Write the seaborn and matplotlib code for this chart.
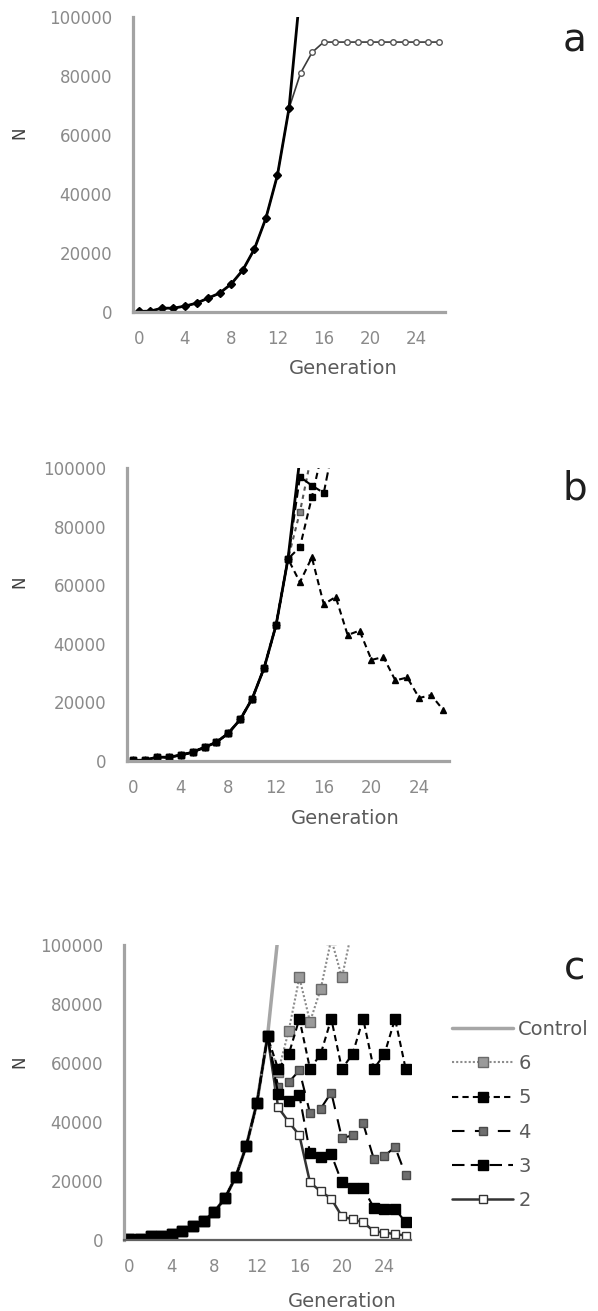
import matplotlib.pyplot as plt
import seaborn as sns

# generations on the x axis and the shared growth phase (gen 0-13)
gens = list(range(27))
growth = [200, 300, 1300, 1300, 2000, 3000, 4700, 6400, 9500, 14200, 21300, 31800, 46400, 69000]

# panel a - values from gen 14 on
a_control_tail = [110000]
a_capped_tail = [81000, 88000, 91500, 91500, 91500, 91500, 91500, 91500, 91500,
                 91500, 91500, 91500, 91500]

# panel b
b_control_tail = [103500]
b_h1_tail = [97000, 94000, 91500, 112000]
b_h2_tail = [85000, 105000]
b_h3_tail = [73000, 90000, 108000]
b_h4_tail = [61000, 69500, 53500, 56000, 43000, 44500, 34500, 35500, 27500, 28500,
             21500, 22500, 17500]

# panel c
c_order = ["Control", "6", "5", "4", "3", "2"]
c_control_tail = [103500]
c_6_tail = [57000, 71000, 89000, 74000, 85000, 102000, 89000, 106000]
c_5_tail = [58000, 63000, 75000, 58000, 63000, 75000, 58000, 63000, 75000, 58000,
            63000, 75000, 58000]
c_4_tail = [52000, 53500, 57500, 43000, 44500, 50000, 34500, 35500, 39500, 27500,
            28500, 31500, 22000]
c_3_tail = [49500, 47000, 49000, 29500, 28000, 29000, 19500, 17500, 17500, 11000,
            10500, 10500, 6000]
c_2_tail = [45000, 40000, 35500, 19500, 16500, 14000, 8000, 7000, 6000, 3000,
            2500, 2000, 1500]

yticks = [0, 20000, 40000, 60000, 80000, 100000]
xticks = [0, 4, 8, 12, 16, 20, 24]

sns.set_style("white")
plt.rcParams["font.family"] = ["DejaVu Sans"]

W, H = 598, 1311


def series(tail):
    y = growth + tail
    return gens[:len(y)], y


def draw(ax, tail, **kw):
    x, y = series(tail)
    kw.setdefault("markeredgecolor", kw.get("color", "black"))
    kw.setdefault("markeredgewidth", 1)
    sns.lineplot(x=x, y=y, ax=ax, errorbar=None, legend=False, **kw)


def style_axes(ax, xcol, xlw, label_x, label_y):
    ax.set_xlim(-0.5, 26.5)
    ax.set_ylim(0, 100000)
    ax.set_xticks(xticks)
    ax.set_xticklabels([str(t) for t in xticks])
    ax.set_yticks(yticks)
    ax.set_yticklabels([str(t) for t in yticks])
    ax.spines["top"].set_visible(False)
    ax.spines["right"].set_visible(False)
    ax.spines["left"].set_color("#a3a3a3")
    ax.spines["left"].set_linewidth(2.3)
    ax.spines["bottom"].set_color(xcol)
    ax.spines["bottom"].set_linewidth(xlw)
    ax.tick_params(length=0, labelsize=12, labelcolor="#8a8a8a")
    ax.tick_params(axis="y", pad=15)
    ax.tick_params(axis="x", pad=13)
    ax.set_ylabel("")
    ax.set_xlabel("Generation", fontsize=14, color="#5a5a5a")
    ax.xaxis.set_label_coords(label_x, label_y)


fig = plt.figure(figsize=(W / 100, H / 100), dpi=100)


def make_axes(left, right, top, bottom):
    return fig.add_axes([left / W, 1 - bottom / H, (right - left) / W, (bottom - top) / H])


# ---- panel a
ax_a = make_axes(133, 445, 17, 312)
draw(ax_a, a_capped_tail, color="#3a3a3a", linewidth=1.2, marker="o", markersize=4,
     markerfacecolor="white", markeredgecolor="#555555")
draw(ax_a, a_control_tail, color="black", linewidth=2, marker="D", markersize=4.5)
style_axes(ax_a, "#a3a3a3", 2.3, 0.675, -0.16)

# ---- panel b
ax_b = make_axes(127, 449, 468, 761)
draw(ax_b, b_h4_tail, color="black", linewidth=1.5, linestyle=(0, (3, 2)), marker="^",
     markersize=4.5)
draw(ax_b, b_h3_tail, color="black", linewidth=1.5, linestyle=(0, (3, 2)), marker="s",
     markersize=4)
draw(ax_b, b_h2_tail, color="#555555", linewidth=1.5, linestyle=(0, (2, 2)), marker="s",
     markersize=4, markerfacecolor="#888888")
draw(ax_b, b_h1_tail, color="black", linewidth=1.5, linestyle=(0, (4, 2)), marker="s",
     markersize=4)
draw(ax_b, b_control_tail, color="black", linewidth=2, marker="D", markersize=3.5)
style_axes(ax_b, "#a3a3a3", 2.3, 0.677, -0.164)

# ---- panel c
ax_c = make_axes(124, 411, 945, 1240)
draw(ax_c, c_control_tail, color="#a6a6a6", linewidth=2.5, label="Control")
draw(ax_c, c_2_tail, color="#333333", linewidth=1.8, marker="s", markersize=6,
     markerfacecolor="white", markeredgecolor="#333333", label="2")
draw(ax_c, c_4_tail, color="black", linewidth=1.5, linestyle=(0, (6, 5)), marker="s",
     markersize=6, markerfacecolor="#6e6e6e", markeredgecolor="#4a4a4a", label="4")
draw(ax_c, c_6_tail, color="#8c8c8c", linewidth=1.5, linestyle=(0, (1, 1)), marker="s",
     markersize=7, markerfacecolor="#9a9a9a", markeredgecolor="#6a6a6a", label="6")
draw(ax_c, c_3_tail, color="black", linewidth=1.5, linestyle=(0, (6, 3)), marker="s",
     markersize=7, label="3")
draw(ax_c, c_5_tail, color="black", linewidth=1.5, linestyle=(0, (3, 2)), marker="s",
     markersize=7, label="5")
style_axes(ax_c, "#606060", 1.6, 0.76, -0.176)

handles, labels = ax_c.get_legend_handles_labels()
lookup = dict(zip(labels, handles))
ax_c.legend([lookup[k] for k in c_order], c_order, loc="upper left",
            bbox_to_anchor=(452 / W, 1 - 1020 / H), bbox_transform=fig.transFigure,
            frameon=False, fontsize=14, labelcolor="#5a5a5a", handlelength=3.15,
            handletextpad=0.26, labelspacing=0.78, borderpad=0, borderaxespad=0,
            numpoints=1)

# y labels and panel letters
for yc in [133, 582, 1062]:
    fig.text(19 / W, 1 - yc / H, "N", rotation=90, ha="center", va="center",
             fontsize=12, color="#404040")
for letter, yb in [("a", 52), ("b", 500), ("c", 980)]:
    fig.text(575 / W, 1 - yb / H, letter, ha="center", va="baseline",
             fontsize=28, color="#1e1e1e")

fig.savefig("out.png", dpi=100)
